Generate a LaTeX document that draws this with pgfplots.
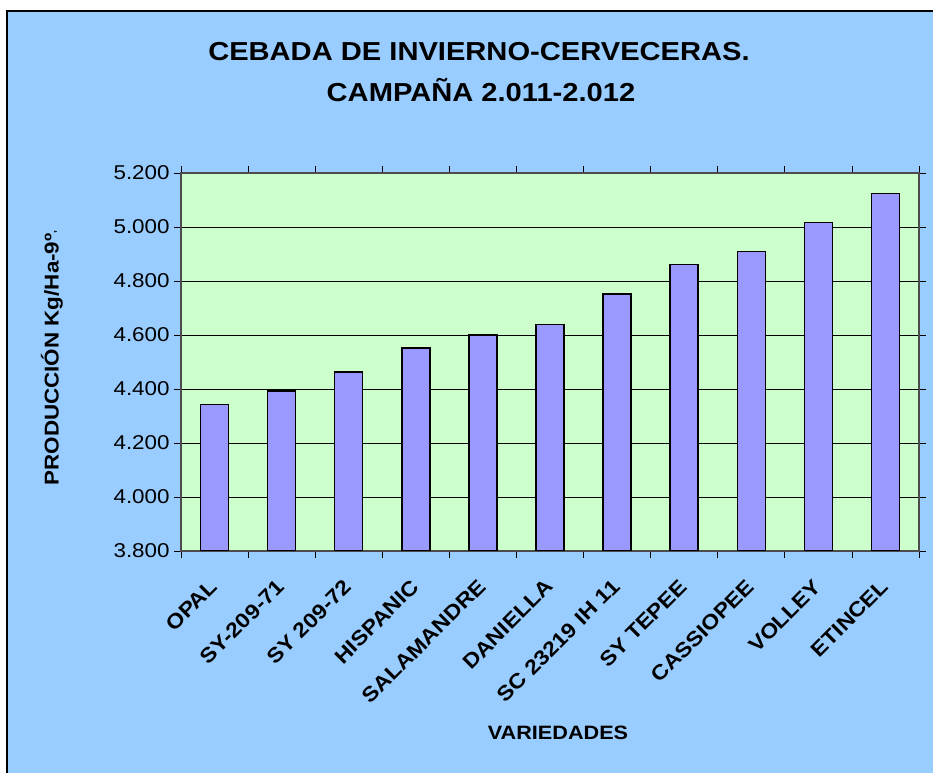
\documentclass[border=0pt]{standalone}
\usepackage{fontspec}
\setmainfont{Liberation Sans}[FakeStretch=1.12]
\usepackage{pgfplots}
\pgfplotsset{compat=1.18}
\definecolor{bgblue}{HTML}{99CCFF}
\definecolor{plotgreen}{HTML}{CCFFCC}
\definecolor{barblue}{HTML}{9999FF}
\begin{document}
\begin{tikzpicture}
\fill[bgblue] (-130.5pt,-166.5pt) rectangle (564pt,405pt);
\draw[black, line width=1.5pt] (-130.5pt,-166.5pt) -- (-130.5pt,405pt) -- (564pt,405pt);
\begin{axis}[
  at={(0,0)}, anchor=south west,
  scale only axis, width=553.5pt, height=283.5pt,
  xmin=-0.5, xmax=10.5, ymin=3800, ymax=5200,
  axis background/.style={fill=plotgreen},
  ytick={3800,4000,...,5200},
  scaled y ticks=false,
  ymajorgrids, grid style={black, line width=0.6pt},
  xtick={0,...,10},
  xticklabels={OPAL,SY-209-71,SY 209-72,HISPANIC,SALAMANDRE,DANIELLA,SC 23219 IH 11,SY TEPEE,CASSIOPEE,VOLLEY,ETINCEL},
  minor xtick={-0.5,0.5,...,10.5},
  major x tick style={draw=none},
  minor x tick style={black, line width=0.6pt},
  y tick style={black, line width=0.6pt},
  tick align=outside,
  major tick length=5pt, minor tick length=5pt,
  axis line style={black!70, line width=0.8pt},
  xticklabel shift=15pt,
  x tick label style={font=\bfseries\fontsize{15.5}{18}\selectfont, xshift=-4.5pt, rotate=45, anchor=north east, inner sep=0pt},
  y tick label style={font=\fontsize{15}{18}\selectfont},
  /pgf/number format/1000 sep={.},
  /pgf/number format/assume math mode=true,
]
\addplot[ybar, bar width=21pt, fill=barblue, draw=black, line width=1.1pt] coordinates {
(0,4343) (1,4392) (2,4463) (3,4552) (4,4600) (5,4638) (6,4752) (7,4861) (8,4909) (9,5016) (10,5125)};
\end{axis}
\node[anchor=base, font=\bfseries\fontsize{19.5}{22}\selectfont] at (223.5pt,367.5pt) {CEBADA DE INVIERNO-CERVECERAS.};
\node[anchor=base, font=\bfseries\fontsize{19.5}{22}\selectfont] at (225pt,336.75pt) {CAMPAÑA 2.011-2.012};
\node[rotate=90, anchor=center, font=\bfseries\fontsize{15}{18}\selectfont] at (-96.75pt,144.75pt) {PRODUCCIÓN Kg/Ha-9º\raisebox{0.3ex}{\scriptsize,}};
\node[anchor=center, font=\bfseries\fontsize{14.5}{16}\selectfont] at (282.75pt,-136.5pt) {VARIEDADES};
\pgfresetboundingbox
\useasboundingbox (-135.75pt,-166.5pt) rectangle (564pt,413.25pt);
\end{tikzpicture}
\end{document}
